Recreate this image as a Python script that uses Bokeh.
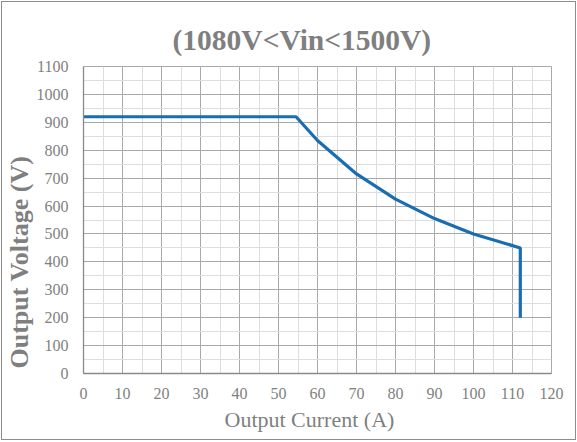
from bokeh.embed import file_html
from bokeh.models import Range1d, SingleIntervalTicker, Title
from bokeh.plotting import figure
from bokeh.resources import INLINE

# output current (A) and output voltage (V)
current = [0, 54.5, 60, 70, 80, 90, 100, 112, 112]
voltage = [920, 920, 835, 715, 625, 555, 500, 450, 200]

TEXT = "#7f7f7f"
FONT = "Liberation Serif"

p = figure(
    frame_width=468,
    frame_height=307,
    min_border_left=80,
    min_border_right=24,
    min_border_top=64,
    min_border_bottom=66,
    x_range=Range1d(0, 120),
    y_range=Range1d(0, 1100),
    output_backend="svg",
    toolbar_location=None,
    title="(1080V<Vin<1500V)",
)
p.styles = {"border": "1px solid #8c8c8c", "margin": "1px"}

# title, a little left of the frame centre as in the original
p.title.align = "left"
p.title.offset = 89
p.title.text_font = FONT
p.title.text_font_size = "29.5px"
p.title.text_font_style = "bold"
p.title.text_color = TEXT
p.title.standoff = 22

# the curve
p.line(current, voltage, line_color="#1a6db3", line_width=3.2)

# axes
p.xaxis.ticker = SingleIntervalTicker(interval=10, num_minor_ticks=2)
p.yaxis.ticker = SingleIntervalTicker(interval=100, num_minor_ticks=2)

for ax in (p.xaxis, p.yaxis):
    ax.axis_line_color = "#8a8a8a"
    ax.axis_line_width = 1.3
    ax.major_tick_line_color = None
    ax.minor_tick_line_color = None
    ax.major_label_text_font = FONT
    ax.major_label_text_font_size = "16px"
    ax.major_label_text_color = TEXT

p.xaxis.major_label_standoff = 8
p.yaxis.major_label_standoff = 9

# axis titles as side titles so they can be shifted along the axis
xlab = Title(text="Output Current (A)", align="left", offset=141, standoff=6,
             text_font=FONT, text_font_size="22px", text_font_style="normal",
             text_color=TEXT)
p.add_layout(xlab, "below")
ylab = Title(text="Output Voltage (V)", align="left", offset=5, standoff=0,
             text_font=FONT, text_font_size="26px", text_font_style="bold",
             text_color=TEXT)
p.add_layout(ylab, "left")

# grid
p.grid.grid_line_color = "#a9a9a9"
p.grid.grid_line_width = 1
p.grid.minor_grid_line_color = "#dedede"
p.grid.minor_grid_line_width = 1
p.outline_line_color = "#a9a9a9"
p.background_fill_color = "white"

open("out.html", "w").write(file_html(p, INLINE))
